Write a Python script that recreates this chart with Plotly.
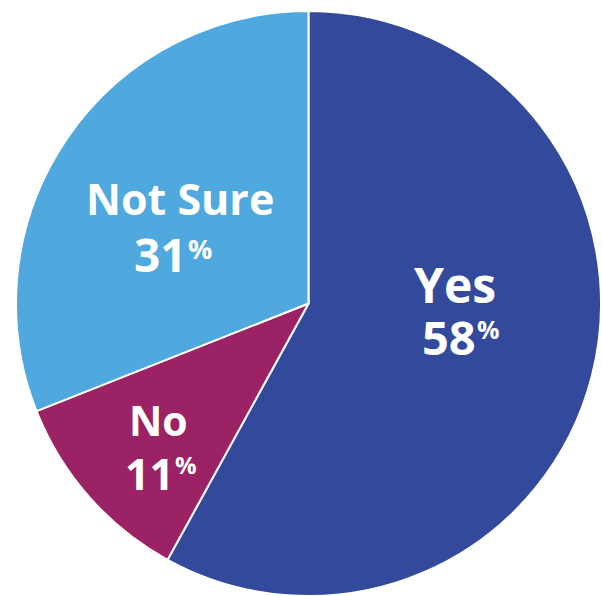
import plotly.graph_objects as go

labels = ["Yes", "No", "Not Sure"]
values = [58, 11, 31]
colors = ["#334a9c", "#9b2265", "#4fa8de"]

W, H = 602, 596
FONT = "Open Sans"
# layout of each slice label (pixels): label centre, label size, number right edge,
# number caps centre, number size, percent caps centre, percent size
label_layout = {
    "Yes":      dict(lx=455, ly=284, ls=48, nx=476, ny=337, ns=47, py=329, ps=25),
    "No":       dict(lx=158, ly=420, ls=41, nx=174, ny=473, ns=43, py=464, ps=24),
    "Not Sure": dict(lx=180, ly=198, ls=43, nx=187, ny=254, ns=46, py=248, ps=27),
}

fig = go.Figure(go.Pie(
    labels=labels,
    values=values,
    textinfo="none",
    hoverinfo="label+percent",
    sort=False,
    direction="clockwise",
    rotation=0,
    marker=dict(colors=colors, line=dict(color="white", width=2)),
    domain=dict(x=[15.5 / W, 601.5 / W], y=[0.0, 1 - 11 / H]),
))


def ann(text, px, py, size, xanchor):
    fig.add_annotation(
        text=text, x=px / W, y=1 - py / H, xref="paper", yref="paper",
        xanchor=xanchor, yanchor="middle", showarrow=False,
        borderpad=0, borderwidth=0,
        font=dict(family=FONT, size=size, color="white", weight="bold"),
    )


for lab, val in zip(labels, values):
    L = label_layout[lab]
    ann(f"<b>{lab}</b>", L["lx"], L["ly"], L["ls"], "center")
    ann(f"<b>{val}</b>", L["nx"], L["ny"], L["ns"], "right")
    ann("<b>%</b>", L["nx"] + 1, L["py"], L["ps"], "left")

fig.update_layout(
    width=W, height=H,
    margin=dict(l=0, r=0, t=0, b=0),
    showlegend=False,
    paper_bgcolor="white",
)
fig.write_html("out.html", config={"displayModeBar": False},
               post_script="document.body.style.margin='0';")
